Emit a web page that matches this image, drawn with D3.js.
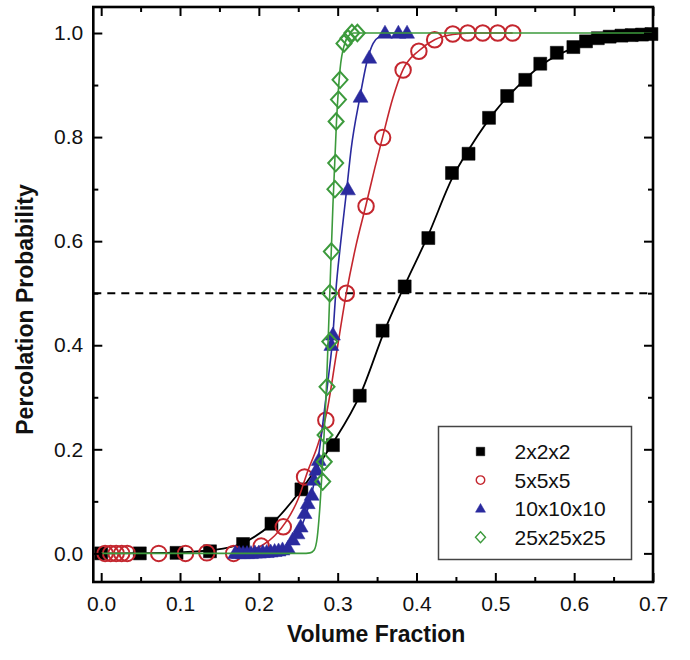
<!DOCTYPE html>
<html>
<head>
<meta charset="utf-8">
<script src="https://cdn.jsdelivr.net/npm/d3@7"></script>
<style>
  body { margin: 0; background: #fff; }
  text { font-family: "Liberation Sans", Arial, Helvetica, sans-serif; }
</style>
</head>
<body>
<svg id="chart" width="690" height="660"></svg>
<script>
// ---- data: percolation probability vs. volume fraction for four cell sizes ----
const seriesNames = ["2x2x2", "5x5x5", "10x10x10", "25x25x25"];

// 2x2x2 (filled squares)
const vf2 = [0.0, 0.049, 0.0956, 0.138, 0.18, 0.216, 0.254, 0.294, 0.328, 0.357, 0.385, 0.415, 0.445, 0.466, 0.492, 0.515, 0.538, 0.557, 0.578, 0.599, 0.615, 0.63, 0.645, 0.66, 0.673, 0.686, 0.698];
const p2  = [0, 0, 0.001, 0.004, 0.018, 0.057, 0.123, 0.208, 0.303, 0.428, 0.513, 0.606, 0.731, 0.768, 0.837, 0.879, 0.91, 0.941, 0.962, 0.973, 0.984, 0.99, 0.993, 0.995, 0.996, 0.997, 0.998];
const fitVf2 = [0, 0.05, 0.1, 0.14, 0.18, 0.215, 0.25, 0.29, 0.33, 0.36, 0.385, 0.415, 0.445, 0.47, 0.5, 0.53, 0.56, 0.6, 0.64, 0.7];
const fitP2  = [0, 0.0005, 0.002, 0.006, 0.02, 0.055, 0.115, 0.203, 0.31, 0.43, 0.515, 0.612, 0.72, 0.785, 0.85, 0.9, 0.94, 0.972, 0.99, 0.998];

// 5x5x5 (open circles)
const vf5 = [0.005, 0.012, 0.019, 0.026, 0.033, 0.073, 0.107, 0.134, 0.168, 0.203, 0.231, 0.258, 0.285, 0.311, 0.336, 0.357, 0.383, 0.403, 0.423, 0.446, 0.465, 0.484, 0.503, 0.522];
const p5  = [0, 0, 0, 0, 0, 0, 0, 0.001, 0, 0.014, 0.051, 0.147, 0.256, 0.5, 0.667, 0.799, 0.929, 0.965, 0.987, 0.998, 1, 1, 1, 1];
const fitVf5 = [0.17, 0.19, 0.205, 0.22, 0.235, 0.25, 0.262, 0.274, 0.286, 0.298, 0.311, 0.323, 0.336, 0.347, 0.357, 0.37, 0.383, 0.403, 0.423, 0.446, 0.47, 0.522];
const fitP5  = [0, 0.006, 0.016, 0.034, 0.062, 0.105, 0.158, 0.205, 0.27, 0.38, 0.5, 0.59, 0.67, 0.74, 0.8, 0.875, 0.93, 0.966, 0.987, 0.997, 1.0, 1.0];

// 10x10x10 (filled triangles)
const vf10 = [0.17, 0.175, 0.18, 0.185, 0.19, 0.195, 0.2, 0.205, 0.21, 0.215, 0.22, 0.225, 0.23, 0.237, 0.243, 0.249, 0.253, 0.258, 0.262, 0.267, 0.27, 0.273, 0.276, 0.292, 0.294, 0.313, 0.329, 0.34, 0.36, 0.377, 0.388];
const p10  = [0, 0, 0, 0, 0, 0.001, 0.001, 0.002, 0.002, 0.003, 0.004, 0.005, 0.007, 0.01, 0.026, 0.038, 0.051, 0.077, 0.096, 0.112, 0.141, 0.16, 0.179, 0.4, 0.42, 0.699, 0.877, 0.952, 1, 1, 1];
const fitVf10 = [0.17, 0.2, 0.22, 0.235, 0.245, 0.255, 0.263, 0.27, 0.276, 0.282, 0.288, 0.294, 0.2975, 0.304, 0.3115, 0.317, 0.328, 0.338, 0.345, 0.355, 0.365, 0.388];
const fitP10  = [0, 0.002, 0.006, 0.013, 0.028, 0.055, 0.09, 0.135, 0.19, 0.26, 0.335, 0.42, 0.5, 0.6, 0.7, 0.776, 0.875, 0.95, 0.98, 0.995, 1.0, 1.0];

// 25x25x25 (open diamonds)
const vf25 = [0.281, 0.283, 0.284, 0.2865, 0.29, 0.29, 0.292, 0.2965, 0.2975, 0.298, 0.301, 0.303, 0.308, 0.313, 0.318, 0.325];
const p25  = [0.138, 0.176, 0.2275, 0.32, 0.407, 0.5, 0.58, 0.70, 0.75, 0.83, 0.872, 0.91, 0.98, 0.99, 1.0, 1.0];
const fitVf25 = [0, 0.255, 0.265, 0.27, 0.274, 0.277, 0.281, 0.286, 0.29, 0.294, 0.2985, 0.303, 0.309, 0.314, 0.32, 0.7];
const fitP25  = [0, 0, 0.001, 0.006, 0.03, 0.08, 0.18, 0.33, 0.5, 0.67, 0.83, 0.93, 0.98, 0.995, 1.0, 1.0];

const xTicks = [0, 0.1, 0.2, 0.3, 0.4, 0.5, 0.6, 0.7];
const xMinor = [0.05, 0.15, 0.25, 0.35, 0.45, 0.55, 0.65];
const yTicks = [0, 0.2, 0.4, 0.6, 0.8, 1.0];
const yMinor = [0.1, 0.3, 0.5, 0.7, 0.9];
const thresholdP = 0.5;

// ---- layout ----
const svg = d3.select("#chart");
const plotL = 93.3, plotR = 653, plotT = 7, plotB = 582;
const x = d3.scaleLinear().domain([-0.01, 0.7]).range([plotL, plotR]);
const y = d3.scaleLinear().domain([-0.055, 1.05]).range([plotB, plotT]);

const palette = ["#000000", "#c4262e", "#2a2a9e", "#3c9a3c"];

// marker shapes, centred on 0,0
const shapes = {
  square: s => { const h = s / 2; return `M${-h},${-h}H${h}V${h}H${-h}Z`; },
  triangle: s => { const h = s * 0.87; return `M0,${-h * 0.6}L${s / 2},${h * 0.4}L${-s / 2},${h * 0.4}Z`; },
  diamond: s => { const w = s / 2, h = s * 0.55; return `M0,${-h}L${w},0L0,${h}L${-w},0Z`; }
};

const series = [
  { name: seriesNames[0], vf: vf2,  p: p2,  fvf: fitVf2,  fp: fitP2,  color: palette[0], kind: "square" },
  { name: seriesNames[1], vf: vf5,  p: p5,  fvf: fitVf5,  fp: fitP5,  color: palette[1], kind: "circle" },
  { name: seriesNames[2], vf: vf10, p: p10, fvf: fitVf10, fp: fitP10, color: palette[2], kind: "triangle" },
  { name: seriesNames[3], vf: vf25, p: p25, fvf: fitVf25, fp: fitP25, color: palette[3], kind: "diamond" }
];

function drawMarker(g, kind, color, size) {
  if (kind === "circle") {
    return g.append("circle").attr("r", size / 2)
      .attr("fill", "none").attr("stroke", color).attr("stroke-width", size > 10 ? 2 : 1.4);
  }
  const hollow = kind === "diamond";
  return g.append("path").attr("d", shapes[kind](size))
    .attr("fill", hollow ? "none" : color)
    .attr("stroke", color).attr("stroke-width", hollow ? (size > 10 ? 2 : 1.4) : 0.5);
}

// dashed threshold line
svg.append("line")
  .attr("x1", plotL).attr("x2", plotR)
  .attr("y1", y(thresholdP)).attr("y2", y(thresholdP))
  .attr("stroke", "#000").attr("stroke-width", 2).attr("stroke-dasharray", "8,6");

const line = d3.line().curve(d3.curveMonotoneX).x(d => x(d[0])).y(d => y(d[1]));
const markerSize = { square: 13, circle: 15.5, triangle: 15, diamond: 15 };

series.forEach(s => {
  const g = svg.append("g");
  g.append("path")
    .attr("d", line(d3.zip(s.fvf, s.fp)))
    .attr("fill", "none").attr("stroke", s.color)
    .attr("stroke-width", s.kind === "square" ? 1.8 : 1.6);
  d3.zip(s.vf, s.p).forEach(([v, p]) => {
    const m = g.append("g").attr("transform", `translate(${x(v)},${y(p)})`);
    drawMarker(m, s.kind, s.color, markerSize[s.kind]);
  });
});

// ---- axes: ticks point inward on all four sides ----
const fmt = d3.format(".1f");
const major = 9, minor = 5;

const bottomAxis = svg.append("g").attr("transform", `translate(0,${plotB})`)
  .call(d3.axisBottom(x).tickValues(xTicks).tickFormat(fmt).tickSizeInner(-major).tickSizeOuter(0).tickPadding(14));
const bottomMinor = svg.append("g").attr("transform", `translate(0,${plotB})`)
  .call(d3.axisBottom(x).tickValues(xMinor).tickFormat("").tickSizeInner(-minor).tickSizeOuter(0));
const topAxis = svg.append("g").attr("transform", `translate(0,${plotT})`)
  .call(d3.axisTop(x).tickValues(xTicks).tickFormat("").tickSizeInner(-major).tickSizeOuter(0));
const topMinor = svg.append("g").attr("transform", `translate(0,${plotT})`)
  .call(d3.axisTop(x).tickValues(xMinor).tickFormat("").tickSizeInner(-minor).tickSizeOuter(0));
const leftAxis = svg.append("g").attr("transform", `translate(${plotL},0)`)
  .call(d3.axisLeft(y).tickValues(yTicks).tickFormat(fmt).tickSizeInner(-major).tickSizeOuter(0).tickPadding(10));
const leftMinor = svg.append("g").attr("transform", `translate(${plotL},0)`)
  .call(d3.axisLeft(y).tickValues(yMinor).tickFormat("").tickSizeInner(-minor).tickSizeOuter(0));
const rightAxis = svg.append("g").attr("transform", `translate(${plotR},0)`)
  .call(d3.axisRight(y).tickValues(yTicks).tickFormat("").tickSizeInner(-major).tickSizeOuter(0));
const rightMinor = svg.append("g").attr("transform", `translate(${plotR},0)`)
  .call(d3.axisRight(y).tickValues(yMinor).tickFormat("").tickSizeInner(-minor).tickSizeOuter(0));

[bottomAxis, bottomMinor, topAxis, topMinor, leftAxis, leftMinor, rightAxis, rightMinor].forEach(a => {
  a.select(".domain").remove();
  a.selectAll(".tick line").attr("stroke", "#000").attr("stroke-width", 2);
  a.selectAll(".tick text").attr("font-size", 21).attr("fill", "#111")
    .style("font-family", "'Liberation Sans', Arial, sans-serif");
});

// plot frame
svg.append("rect")
  .attr("x", plotL).attr("y", plotT)
  .attr("width", plotR - plotL).attr("height", plotB - plotT)
  .attr("fill", "none").attr("stroke", "#000").attr("stroke-width", 2.6);

// axis titles
svg.append("text")
  .attr("x", (plotL + plotR) / 2 + 3).attr("y", 642)
  .attr("text-anchor", "middle").attr("font-size", 23).attr("font-weight", "bold").attr("fill", "#111")
  .text("Volume Fraction");
svg.append("text")
  .attr("transform", `translate(33,${(plotT + plotB) / 2 + 15}) rotate(-90)`)
  .attr("text-anchor", "middle").attr("font-size", 23).attr("font-weight", "bold").attr("fill", "#111")
  .text("Percolation Probability");

// ---- legend ----
const legend = svg.append("g").attr("transform", "translate(438.5,426.5)");
legend.append("rect")
  .attr("width", 193).attr("height", 133)
  .attr("fill", "#fff").attr("stroke", "#444").attr("stroke-width", 1.5);
const legendMarkerSize = { square: 8.5, circle: 8.5, triangle: 10, diamond: 10 };
series.forEach((s, i) => {
  const row = legend.append("g").attr("transform", `translate(0,${25 + i * 28.6})`);
  const m = row.append("g").attr("transform", "translate(42,0)");
  drawMarker(m, s.kind, s.color, legendMarkerSize[s.kind]);
  row.append("text").attr("x", 76).attr("dy", "0.36em")
    .attr("font-size", 21).attr("fill", "#111").text(s.name);
});
</script>
</body>
</html>
